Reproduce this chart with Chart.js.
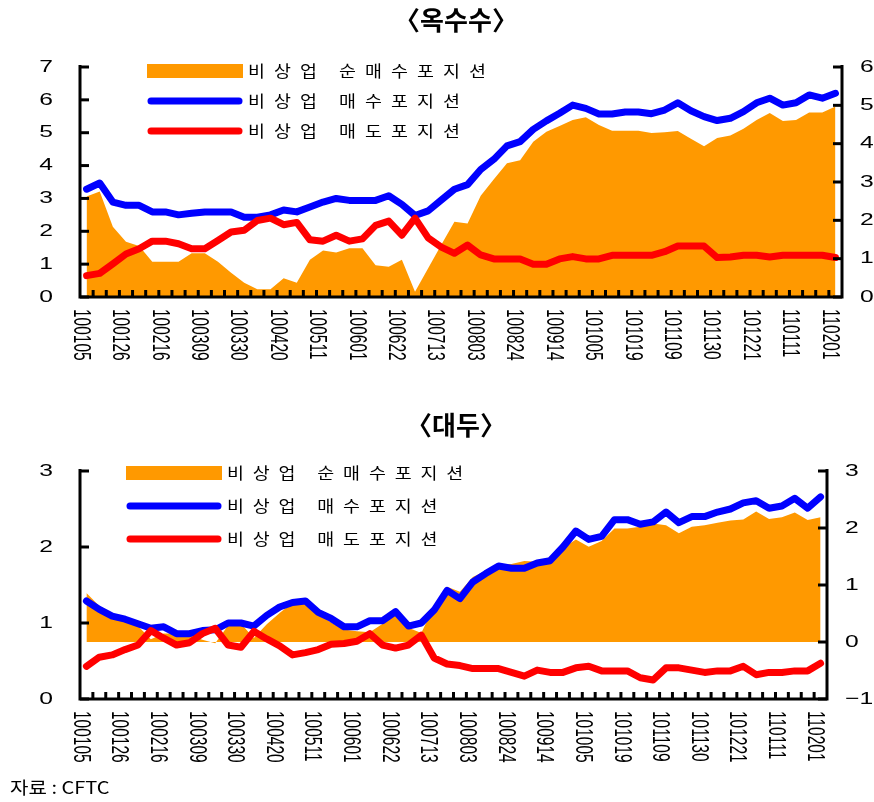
<!DOCTYPE html>
<html lang="ko">
<head>
<meta charset="utf-8">
<title>비상업 포지션</title>
<script src="https://cdn.jsdelivr.net/npm/chart.js@4.4.1/dist/chart.umd.min.js"></script>
<style>
  body { margin: 0; background: #fff; }
  #wrap { position: relative; width: 874px; height: 802px; }
  canvas { position: absolute; left: 0; }
</style>
</head>
<body>
<div id="wrap">
  <canvas id="corn" width="874" height="400" style="top:0"></canvas>
  <canvas id="soy" width="874" height="402" style="top:400px"></canvas>
</div>
<script>
// weekly dates (yymmdd), every 3rd one is labelled
var dates = ['100105','100112','100119','100126','100202','100209','100216','100223','100302','100309',
             '100316','100323','100330','100406','100413','100420','100427','100504','100511','100518',
             '100525','100601','100608','100615','100622','100629','100706','100713','100720','100727',
             '100803','100810','100817','100824','100831','100907','100914','100921','100928','101005',
             '101012','101015','101019','101026','101102','101109','101116','101123','101130','101207',
             '101214','101221','101228','110104','110111','110118','110125','110201'];

var seriesLabels = ['비상업 순매수포지션', '비상업 매수포지션', '비상업 매도포지션'];

// 옥수수
var cornNet = [2.62,2.75,1.83,1.44,1.33,0.92,0.92,0.92,1.14,1.14,
               0.92,0.63,0.37,0.20,0.20,0.49,0.37,0.97,1.21,1.16,
               1.27,1.27,0.83,0.79,0.97,0.14,0.75,1.36,1.96,1.92,
               2.64,3.07,3.49,3.57,4.05,4.31,4.46,4.62,4.69,4.49,
               4.34,4.34,4.34,4.28,4.30,4.33,4.13,3.93,4.15,4.21,
               4.39,4.62,4.80,4.59,4.62,4.81,4.81,4.97];
var cornLong = [3.28,3.47,2.89,2.79,2.79,2.59,2.59,2.50,2.55,2.59,
                2.59,2.59,2.43,2.43,2.50,2.65,2.59,2.74,2.89,3.00,
                2.94,2.94,2.94,3.08,2.82,2.48,2.62,2.95,3.28,3.42,
                3.88,4.19,4.60,4.73,5.10,5.36,5.59,5.84,5.74,5.57,
                5.57,5.63,5.63,5.58,5.69,5.91,5.67,5.49,5.37,5.44,
                5.64,5.91,6.05,5.84,5.91,6.15,6.05,6.20];
var cornShort = [0.65,0.72,1.01,1.31,1.47,1.70,1.70,1.62,1.47,1.47,
                 1.72,1.98,2.03,2.33,2.40,2.20,2.27,1.74,1.70,1.88,
                 1.70,1.77,2.18,2.31,1.88,2.40,1.80,1.52,1.33,1.58,
                 1.28,1.16,1.16,1.16,1.00,1.00,1.16,1.23,1.16,1.16,
                 1.27,1.27,1.27,1.27,1.38,1.55,1.55,1.55,1.20,1.22,
                 1.27,1.27,1.22,1.27,1.27,1.27,1.27,1.20];

// 대두
var soyNet = [0.86,0.63,0.51,0.40,0.28,0.05,0.15,0.15,0.12,0.04,
              -0.02,0.29,0.32,0.07,0.31,0.51,0.69,0.68,0.49,0.34,
              0.22,0.19,0.17,0.32,0.48,0.25,0.16,0.63,0.97,0.88,
              1.14,1.25,1.35,1.37,1.42,1.41,1.47,1.65,1.80,1.67,
              1.77,1.99,1.99,2.02,2.08,2.05,1.91,2.02,2.05,2.09,
              2.13,2.15,2.29,2.16,2.19,2.27,2.14,2.19];
var soyLong = [1.29,1.18,1.09,1.05,0.99,0.93,0.95,0.86,0.86,0.90,
               0.91,1.00,1.00,0.96,1.10,1.21,1.27,1.29,1.14,1.06,
               0.95,0.95,1.03,1.03,1.15,0.96,1.00,1.17,1.43,1.32,
               1.54,1.65,1.75,1.72,1.72,1.79,1.82,2.00,2.21,2.10,
               2.14,2.36,2.36,2.30,2.33,2.46,2.32,2.40,2.40,2.46,
               2.50,2.58,2.61,2.51,2.54,2.64,2.51,2.66];
var soyShort = [0.43,0.55,0.58,0.65,0.71,0.90,0.80,0.71,0.74,0.86,
                0.93,0.71,0.68,0.89,0.79,0.70,0.58,0.61,0.65,0.72,
                0.73,0.76,0.86,0.71,0.67,0.71,0.84,0.54,0.46,0.44,
                0.40,0.40,0.40,0.35,0.30,0.38,0.35,0.35,0.41,0.43,
                0.37,0.37,0.37,0.28,0.25,0.41,0.41,0.38,0.35,0.37,
                0.37,0.43,0.32,0.35,0.35,0.37,0.37,0.47];

var ORANGE = '#ff9900', BLUE = '#0000ff', RED = '#ff0000';
var NUM_FONT = "'Liberation Sans', Arial, sans-serif";
var KR_FONT = "'Noto Sans CJK KR', sans-serif";

function stretchText(ctx, text, x, y, sx, align) {
    ctx.save();
    ctx.translate(x, y);
    ctx.scale(sx, 1);
    ctx.textAlign = align;
    ctx.fillText(text, 0, 0);
    ctx.restore();
}

function spacedText(ctx, text, x, y, adv, sx) {
    for (var ch of text) {
        if (ch === ' ') { x += adv / 2; continue; }
        stretchText(ctx, ch, x, y, sx, 'left');
        x += adv;
    }
}

function line(ctx, x1, y1, x2, y2) {
    ctx.beginPath();
    ctx.moveTo(x1, y1);
    ctx.lineTo(x2, y2);
    ctx.stroke();
}

// axes, ticks, labels, legend and title drawn on top of the datasets
var decor = {
    id: 'decor',
    afterDatasetsDraw: function (chart, args, o) {
        var ctx = chart.ctx, a = chart.chartArea;
        var xs = chart.scales.x, yl = chart.scales.yL, yr = chart.scales.yR;
        ctx.save();
        ctx.fillStyle = '#000';
        ctx.strokeStyle = '#000';
        ctx.lineWidth = 3;

        ctx.beginPath();
        ctx.moveTo(a.left, a.top - 2);
        ctx.lineTo(a.left, a.bottom);
        ctx.lineTo(a.right, a.bottom);
        ctx.lineTo(a.right, a.top - 2);
        ctx.stroke();

        ctx.font = '17px ' + NUM_FONT;
        ctx.textBaseline = 'middle';
        yl.ticks.forEach(function (t) {
            var py = yl.getPixelForValue(t.value);
            line(ctx, a.left, py, a.left + 9, py);
            stretchText(ctx, String(t.value), a.left - 27, py, 1.45, 'right');
        });
        yr.ticks.forEach(function (t) {
            var py = yr.getPixelForValue(t.value);
            line(ctx, a.right - 9, py, a.right, py);
            stretchText(ctx, String(t.value).replace('-', '\u2212'), a.right + 18, py, 1.45, 'left');
        });

        var n = chart.data.labels.length;
        var step = xs.getPixelForValue(1) - xs.getPixelForValue(0);
        var x0 = xs.getPixelForValue(0) - step / 2;
        for (var i = 1; i < n; i++) {
            var bx = x0 + i * step;
            line(ctx, bx, a.bottom, bx, a.bottom - 7);
        }

        ctx.font = '15.5px ' + NUM_FONT;
        ctx.textBaseline = 'middle';
        ctx.textAlign = 'left';
        chart.data.labels.forEach(function (lab, i) {
            if (i % 3 !== 0) return;
            ctx.save();
            ctx.translate(xs.getPixelForValue(i) - 6, a.bottom + 12);
            ctx.rotate(Math.PI / 2);
            ctx.scale(1, 1.6);
            ctx.fillText(lab, 0, 0);
            ctx.restore();
        });

        // legend
        var L = o.legend, ds = chart.data.datasets;
        ctx.fillStyle = ds[0].backgroundColor;
        ctx.fillRect(L.x0, L.rows[0] - 7, L.x1 - L.x0, 14);
        ctx.lineCap = 'round';
        ctx.lineWidth = 7;
        ctx.strokeStyle = ds[1].borderColor;
        line(ctx, L.x0 + 4, L.rows[1], L.x1 - 4, L.rows[1]);
        ctx.strokeStyle = ds[2].borderColor;
        line(ctx, L.x0 + 4, L.rows[2], L.x1 - 4, L.rows[2]);
        ctx.fillStyle = '#000';
        ctx.font = '16px ' + KR_FONT;
        ctx.textBaseline = 'middle';
        for (var k = 0; k < 3; k++) {
            spacedText(ctx, ds[k].label, L.tx, L.rows[k], L.adv, 1.15);
        }

        // title
        ctx.font = 'bold 26px ' + KR_FONT;
        ctx.textAlign = 'center';
        ctx.fillText(o.title, 456, o.titleY);

        if (o.source) {
            ctx.font = '17px ' + KR_FONT;
            stretchText(ctx, o.source, 10, o.sourceY, 1.18, 'left');
        }
        ctx.restore();
    }
};

function makeChart(id, net, long, short, yl, yr, deco) {
    return new Chart(document.getElementById(id), {
        type: 'line',
        data: {
            labels: dates,
            datasets: [
                { label: seriesLabels[0], data: net, yAxisID: 'yR', fill: 'origin',
                  backgroundColor: ORANGE, borderColor: 'rgba(0,0,0,0)', borderWidth: 1,
                  pointRadius: 0, tension: 0, order: 3 },
                { label: seriesLabels[1], data: long, yAxisID: 'yL', fill: false,
                  borderColor: BLUE, borderWidth: 7, borderJoinStyle: 'round', borderCapStyle: 'round',
                  pointRadius: 0, tension: 0, order: 2 },
                { label: seriesLabels[2], data: short, yAxisID: 'yL', fill: false,
                  borderColor: RED, borderWidth: 7, borderJoinStyle: 'round', borderCapStyle: 'round',
                  pointRadius: 0, tension: 0, order: 1 }
            ]
        },
        options: {
            responsive: false,
            animation: false,
            events: [],
            layout: { padding: { top: deco.top, left: 0, right: 0, bottom: 0 } },
            plugins: { legend: { display: false }, tooltip: { enabled: false }, decor: deco },
            scales: {
                x: { offset: true, ticks: { display: false }, grid: { display: false }, border: { display: false },
                     afterFit: function (s) { s.height = deco.xh; } },
                yL: { position: 'left', min: yl[0], max: yl[1], ticks: { stepSize: 1, display: false },
                      grid: { display: false }, border: { display: false },
                      afterFit: function (s) { s.width = 80; } },
                yR: { position: 'right', min: yr[0], max: yr[1], ticks: { stepSize: 1, display: false },
                      grid: { display: false }, border: { display: false },
                      afterFit: function (s) { s.width = deco.rw; } }
            }
        },
        plugins: [decor]
    });
}

makeChart('corn', cornNet, cornLong, cornShort, [0, 7], [0, 6], {
    top: 67, xh: 103, rw: 32, title: '〈옥수수〉', titleY: 20,
    legend: { x0: 147, x1: 243, tx: 248, rows: [71, 101, 131], adv: 26 }
});
makeChart('soy', soyNet, soyLong, soyShort, [0, 3], [-1, 3], {
    top: 71, xh: 103, rw: 47, title: '〈대두〉', titleY: 25,
    legend: { x0: 126, x1: 222, tx: 227, rows: [73, 106, 139], adv: 25.8 },
    source: '자료 : CFTC', sourceY: 388
});
</script>
</body>
</html>
